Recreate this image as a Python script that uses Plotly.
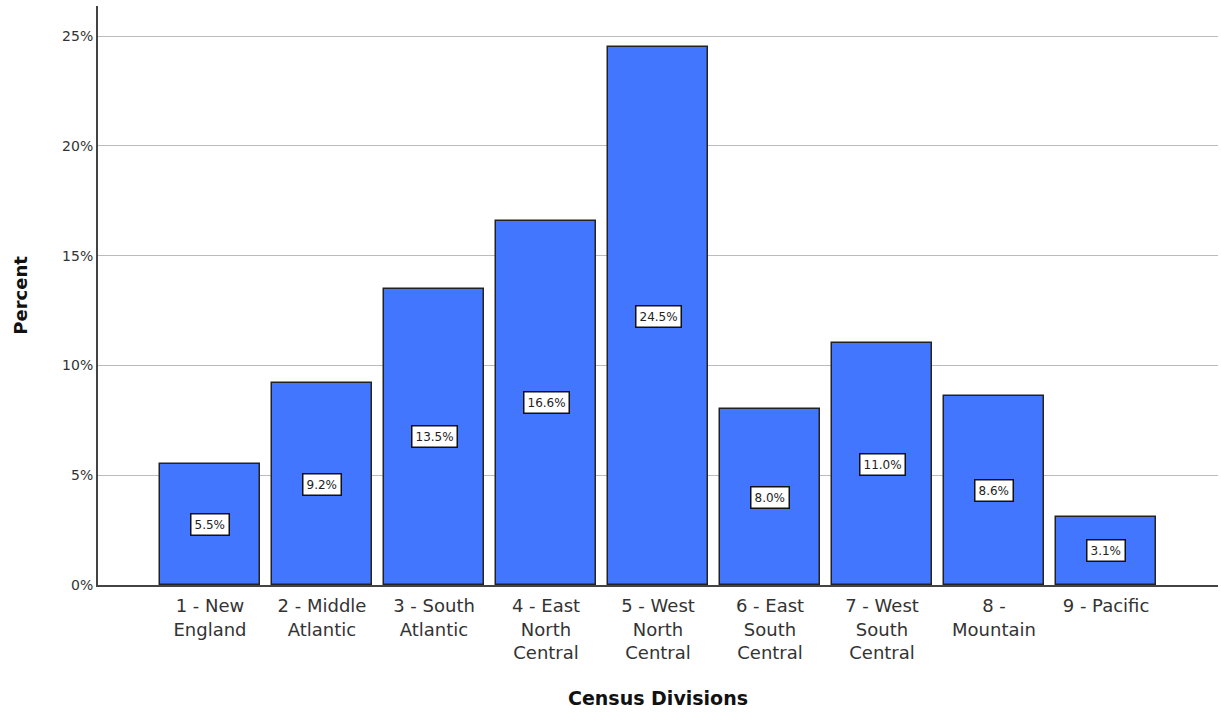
import plotly.graph_objects as go

# Census division categories and their share of respondents (%)
divisions = [
    "1 - New<br>England",
    "2 - Middle<br>Atlantic",
    "3 - South<br>Atlantic",
    "4 - East<br>North<br>Central",
    "5 - West<br>North<br>Central",
    "6 - East<br>South<br>Central",
    "7 - West<br>South<br>Central",
    "8 -<br>Mountain",
    "9 - Pacific",
]
percent = [5.5, 9.2, 13.5, 16.6, 24.5, 8.0, 11.0, 8.6, 3.1]
y_ticks = [0, 5, 10, 15, 20, 25]
y_tick_labels = ["0%", "5%", "10%", "15%", "20%", "25%"]

x_pos = list(range(len(divisions)))

fig = go.Figure()
fig.add_trace(go.Bar(
    x=x_pos,
    y=percent,
    width=0.89,
    marker=dict(color="#4276FF", line=dict(color="#222222", width=1.5)),
    hoverinfo="skip",
))

# Value labels in white boxes at the middle of each bar
for xi, v in zip(x_pos, percent):
    fig.add_annotation(
        x=xi, y=v / 2, text=f"{v:.1f}%", showarrow=False,
        font=dict(family="DejaVu Sans", size=12, color="#222222"),
        bgcolor="white", bordercolor="#111111", borderwidth=1.5, borderpad=3,
    )

fig.update_layout(
    width=1221, height=712,
    margin=dict(l=98, r=3, t=6, b=127),
    plot_bgcolor="white", paper_bgcolor="white",
    showlegend=False,
    bargap=0,
    xaxis=dict(
        range=[-1, 9],
        tickmode="array", tickvals=x_pos, ticktext=divisions,
        showgrid=False, zeroline=False,
        showline=True, linecolor="#444444", linewidth=1.5,
        ticks="", ticklabelstandoff=4,
        tickfont=dict(family="DejaVu Sans", size=18, color="#333333"),
        title=dict(text="<b>Census Divisions</b>", standoff=30,
                   font=dict(family="DejaVu Sans", size=19, color="#111111")),
    ),
    yaxis=dict(
        range=[0, 26.37],
        tickmode="array", tickvals=y_ticks, ticktext=y_tick_labels,
        showgrid=True, gridcolor="#BBBBBB", gridwidth=1,
        zeroline=False,
        showline=True, linecolor="#444444", linewidth=2,
        ticks="", ticklen=0,
        tickfont=dict(family="DejaVu Sans", size=14, color="#333333"),
        title=dict(text="<b>Percent</b>", standoff=30,
                   font=dict(family="DejaVu Sans", size=18, color="#111111")),
    ),
)

fig.write_html("out.html")
